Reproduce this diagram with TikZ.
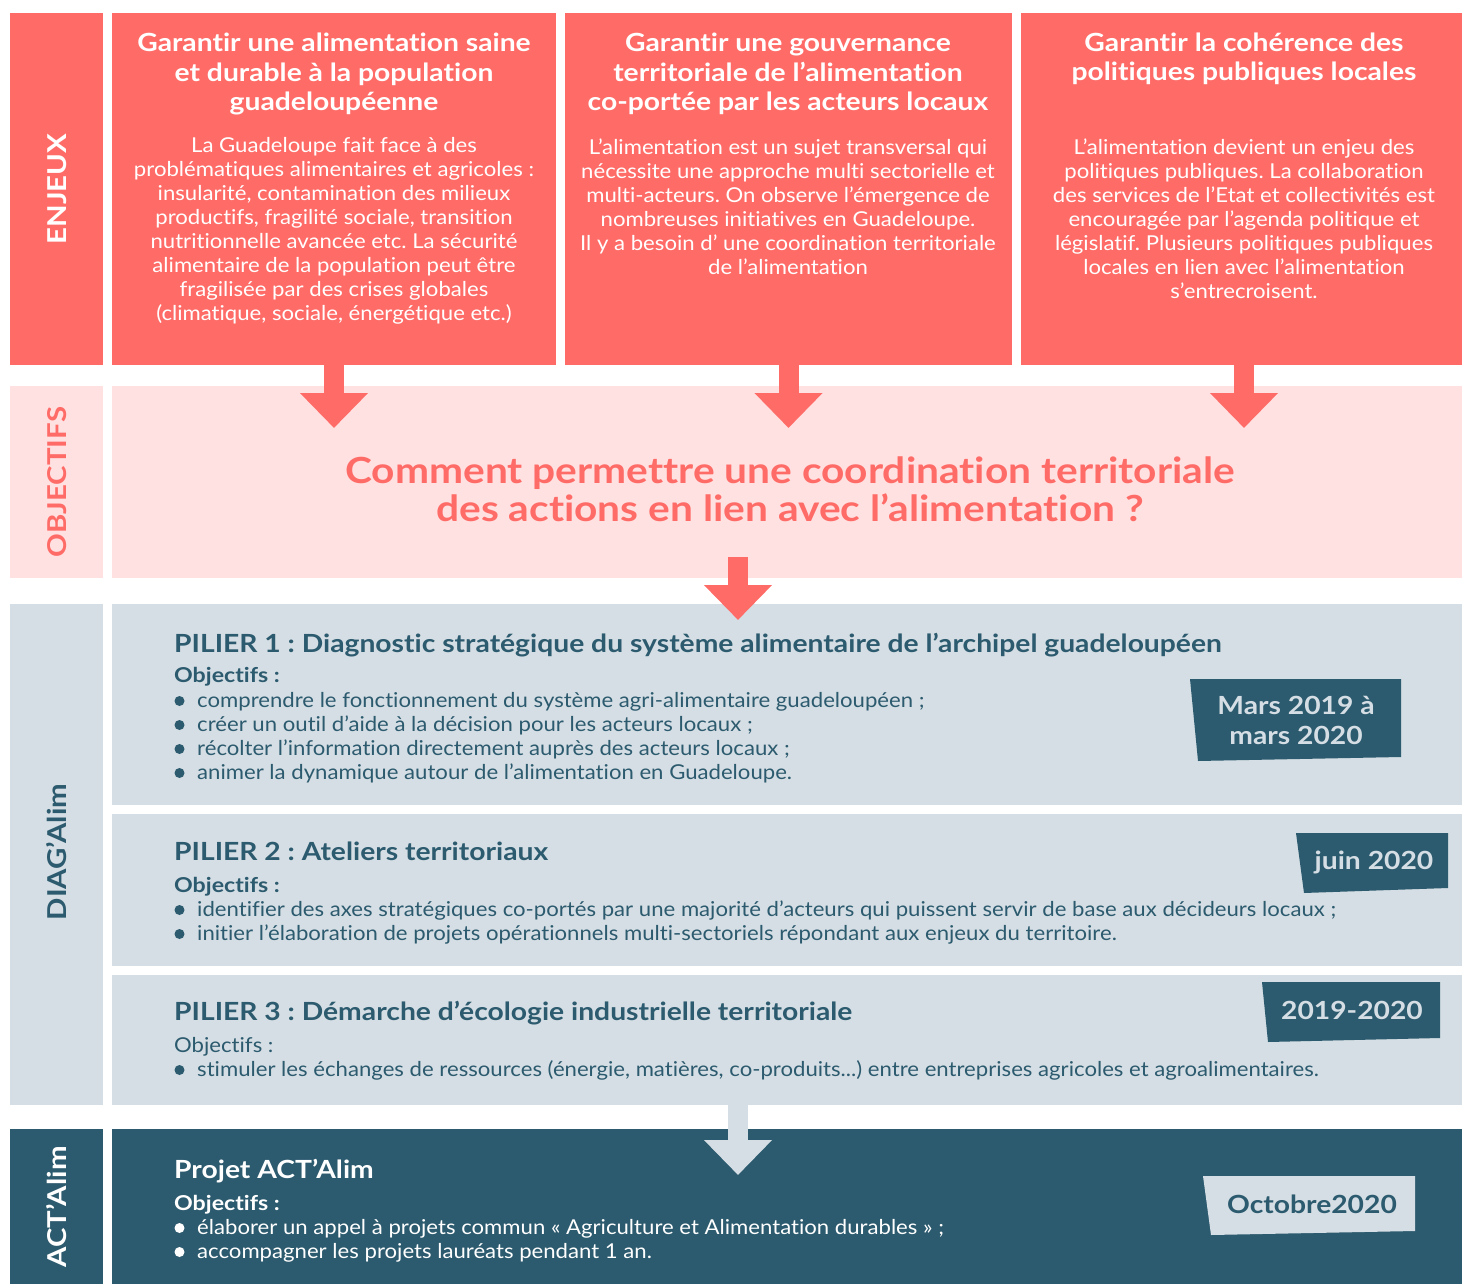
\documentclass[tikz,border=0pt]{standalone}
\usepackage{fontspec}
\setmainfont{Lato}[Ligatures=NoCommon, FakeStretch=1.08, BoldFeatures={FakeStretch=1.13}]
\usetikzlibrary{arrows.meta}
\frenchspacing
\definecolor{coral}{RGB}{255,108,104}
\definecolor{pinkbg}{RGB}{255,225,225}
\definecolor{graybg}{RGB}{213,222,228}
\definecolor{tealc}{RGB}{44,90,110}
\tikzset{
  cell/.style={anchor=north west, inner sep=0pt, outer sep=0pt},
  ttl/.style={align=center, text=white, font=\fontsize{25}{29.5}\selectfont\bfseries},
  bodytxt/.style={align=center, text=white, font=\fontsize{20.5}{24}\selectfont},
  side/.style={rotate=90, font=\fontsize{26}{30}\selectfont\bfseries},
  piltitle/.style={anchor=base west, inner sep=0pt, text=tealc, font=\fontsize{25}{30}\selectfont\bfseries},
  objb/.style={anchor=base west, inner sep=0pt, text=tealc, font=\fontsize{20.5}{24}\selectfont\bfseries},
  objr/.style={anchor=base west, inner sep=0pt, text=tealc, font=\fontsize{20.5}{24}\selectfont},
  item/.style={anchor=base west, inner sep=0pt, text=tealc, font=\fontsize{20.5}{24}\selectfont},
  tagtxt/.style={align=center, font=\fontsize{25}{30}\selectfont\bfseries},
  downarrow/.style={line width=20pt, -{Triangle[width=66pt,length=35pt]}},
}
\begin{document}
\frenchspacing
\begin{tikzpicture}[x=1pt,y=-1pt]
\useasboundingbox (0,0) rectangle (1462,1284);
\fill[white] (0,0) rectangle (1462,1284);

% ENJEUX row
\node[cell, fill=coral, minimum width=93pt, minimum height=352pt] (e0) at (10,13) {};
\node[cell, fill=coral, minimum width=444pt, minimum height=352pt] (e1) at (112,13) {};
\node[cell, fill=coral, minimum width=447pt, minimum height=352pt] (e2) at (565,13) {};
\node[cell, fill=coral, minimum width=441pt, minimum height=352pt] (e3) at (1021,13) {};
\node[side, text=white] (le) at (57,189) {ENJEUX};

\node[ttl] (t1) at (334,74) {Garantir une alimentation saine\\et durable à la population\\guadeloupéenne};
\node[bodytxt] (b1) at (334,231) {La Guadeloupe fait face à des\\problématiques alimentaires et agricoles :\\insularité, contamination des milieux\\productifs, fragilité sociale, transition\\nutritionnelle avancée etc. La sécurité\\alimentaire de la population peut être\\fragilisée par des crises globales\\(climatique, sociale, énergétique etc.)};

\node[ttl] (t2) at (788,74) {Garantir une gouvernance\\territoriale de l’alimentation\\co-portée par les acteurs locaux};
\node[bodytxt] (b2) at (788,207) {L’alimentation est un sujet transversal qui\\nécessite une approche multi sectorielle et\\multi-acteurs. On observe l’émergence de\\nombreuses initiatives en Guadeloupe.\\Il y a besoin d’ une coordination territoriale\\de l’alimentation};

\node[ttl] (t3) at (1244,59) {Garantir la cohérence des\\politiques publiques locales};
\node[bodytxt] (b3) at (1244,219) {L’alimentation devient un enjeu des\\politiques publiques. La collaboration\\des services de l’Etat et collectivités est\\encouragée par l’agenda politique et\\législatif. Plusieurs politiques publiques\\locales en lien avec l’alimentation\\s’entrecroisent.};

% OBJECTIFS row
\node[cell, fill=pinkbg, minimum width=93pt, minimum height=192pt] (o0) at (10,386) {};
\node[cell, fill=pinkbg, minimum width=1350pt, minimum height=192pt] (o1) at (112,386) {};
\node[side, text=coral] (lo) at (57,482) {OBJECTIFS};
\node[align=center, text=coral, font=\fontsize{36}{38}\selectfont\bfseries] (q) at (790,489) {Comment permettre une coordination territoriale\\des actions en lien avec l’alimentation ?};

% arrows from enjeux
\draw[downarrow, coral] (e1.south) -- ++(0,63);
\draw[downarrow, coral] (e2.south) -- ++(0,63);
\draw[downarrow, coral] ([xshift=2.5pt]e3.south) -- ++(0,63);

% DIAG'Alim row
\node[cell, fill=graybg, minimum width=93pt, minimum height=501pt] (d0) at (10,604) {};
\node[cell, fill=graybg, minimum width=1350pt, minimum height=201pt] (p1) at (112,604) {};
\node[cell, fill=graybg, minimum width=1350pt, minimum height=152pt] (p2) at (112,814) {};
\node[cell, fill=graybg, minimum width=1350pt, minimum height=130pt] (p3) at (112,975) {};
\node[side, text=tealc] (ld) at (57,852) {DIAG’Alim};

% arrow objectifs -> pilier 1
\coordinate (m1) at (738,557);
\coordinate (m2) at (738,620);
\draw[downarrow, coral] (m1) -- (m2);

% Pilier 1
\node[piltitle] (p1t) at (174,652) {PILIER 1 : Diagnostic stratégique du système alimentaire de l’archipel guadeloupéen};
\node[objb] (p1o) at (174,682) {Objectifs :};
\foreach \y/\t [count=\i] in {707/{comprendre le fonctionnement du système agri-alimentaire guadeloupéen ;},731/{créer un outil d’aide à la décision pour les acteurs locaux ;},755/{récolter l’information directement auprès des acteurs locaux ;},779/{animer la dynamique autour de l’alimentation en Guadeloupe.}}{
  \fill[tealc] (179.5,\y-6) circle (5);
  \node[item] (p1i\i) at (197,\y) {\t};
}
\fill[tealc] (1190,679) -- (1401,679) -- (1401,757) -- (1198,761) -- cycle;
\node[tagtxt, text=graybg] (tag1) at (1296,720) {Mars 2019 à\\mars 2020};

% Pilier 2
\node[piltitle] (p2t) at (174,860) {PILIER 2 : Ateliers territoriaux};
\node[objb] (p2o) at (174,892) {Objectifs :};
\foreach \y/\t [count=\i] in {916/{identifier des axes stratégiques co-portés par une majorité d’acteurs qui puissent servir de base aux décideurs locaux ;},940/{initier l’élaboration de projets opérationnels multi-sectoriels répondant aux enjeux du territoire.}}{
  \fill[tealc] (179.5,\y-6) circle (5);
  \node[item] (p2i\i) at (197,\y) {\t};
}
\fill[tealc] (1296,833) -- (1448,833) -- (1448,888) -- (1304,893) -- cycle;
\node[tagtxt, text=graybg] (tag2) at (1374,862) {juin 2020};

% Pilier 3
\node[piltitle] (p3t) at (174,1020) {PILIER 3 : Démarche d’écologie industrielle territoriale};
\node[objr] (p3o) at (174,1052) {Objectifs :};
\fill[tealc] (179.5,1070) circle (5);
\node[item] (p3i1) at (197,1076) {stimuler les échanges de ressources (énergie, matières, co-produits...) entre entreprises agricoles et agroalimentaires.};
\fill[tealc] (1262,982) -- (1440,982) -- (1440,1038) -- (1268,1042) -- cycle;
\node[tagtxt, text=graybg] (tag3) at (1352,1010) {2019-2020};

% ACT'Alim row
\node[cell, fill=tealc, minimum width=93pt, minimum height=155pt] (a0) at (10,1129) {};
\node[cell, fill=tealc, minimum width=1350pt, minimum height=155pt] (a1) at (112,1129) {};
\node[side, text=white] (la) at (57,1207) {ACT’Alim};

\coordinate (g1) at (738,1100);
\coordinate (g2) at (738,1175);
\draw[downarrow, graybg] (g1) -- (g2);

\node[piltitle, text=white] (at) at (174,1178) {Projet ACT’Alim};
\node[objb, text=white] (ao) at (174,1210) {Objectifs :};
\foreach \y/\t [count=\i] in {1234/{élaborer un appel à projets commun « Agriculture et Alimentation durables » ;},1258/{accompagner les projets lauréats pendant 1 an.}}{
  \fill[white] (179.5,\y-6) circle (5);
  \node[item, text=white] (ai\i) at (197,\y) {\t};
}
\fill[graybg] (1203,1176) -- (1415,1176) -- (1415,1231) -- (1211,1235) -- cycle;
\node[tagtxt, text=tealc] (tag4) at (1312,1204) {Octobre2020};
\end{tikzpicture}
\end{document}
